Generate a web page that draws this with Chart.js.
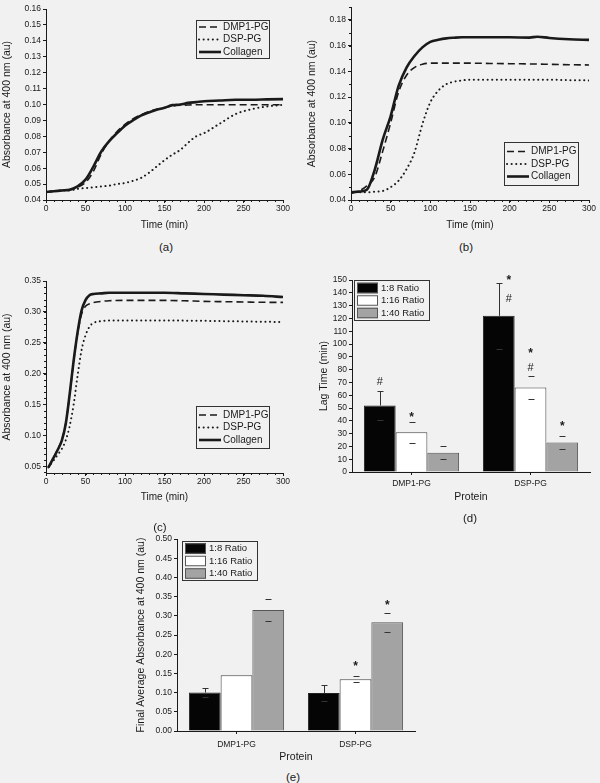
<!DOCTYPE html>
<html>
<head>
<meta charset="utf-8">
<script src="https://cdn.jsdelivr.net/npm/chart.js@4.4.1/dist/chart.umd.min.js"></script>
<style>
  body { margin: 0; width: 600px; height: 783px; background: #f1f1f1; position: relative; overflow: hidden;
         font-family: "Liberation Sans", Arial, sans-serif; }
  canvas { position: absolute; }
  .tag { position: absolute; font-size: 11.5px; color: #1a1a1a; transform: translate(-50%, -50%); }
</style>
</head>
<body>
<canvas id="ca" width="292" height="234" style="left:0;top:0"></canvas>
<canvas id="cb" width="300" height="234" style="left:300px;top:0"></canvas>
<canvas id="cc" width="292" height="246" style="left:0;top:260px"></canvas>
<canvas id="cd" width="288" height="247" style="left:312px;top:260px"></canvas>
<canvas id="ce" width="296" height="237" style="left:130px;top:530px"></canvas>
<div class="tag" style="left:166px;top:247px">(a)</div>
<div class="tag" style="left:466px;top:247px">(b)</div>
<div class="tag" style="left:160px;top:527px">(c)</div>
<div class="tag" style="left:470px;top:518px">(d)</div>
<div class="tag" style="left:293px;top:777px">(e)</div>
<script>
// ---- data ----
const timeTicks = [0, 50, 100, 150, 200, 250, 300];

// (a)
const timeA = [0, 10, 20, 30, 40, 50, 60, 70, 80, 90, 100, 110, 120, 130, 140, 150, 160, 170, 180, 190, 200, 220, 240, 260, 280, 300];
const dmp1A = [0.045, 0.0455, 0.046, 0.0465, 0.048, 0.051, 0.058, 0.069, 0.077, 0.083, 0.0875, 0.091, 0.0935, 0.0955, 0.097, 0.098, 0.099, 0.0995, 0.0997, 0.0998, 0.0998, 0.0998, 0.0998, 0.0998, 0.0998, 0.0998];
const dspA = [0.045, 0.0455, 0.046, 0.046, 0.047, 0.0475, 0.048, 0.0485, 0.049, 0.050, 0.0507, 0.052, 0.0538, 0.057, 0.061, 0.065, 0.0685, 0.0715, 0.076, 0.080, 0.082, 0.088, 0.094, 0.097, 0.0988, 0.0998];
const collagenA = [0.045, 0.0455, 0.046, 0.0465, 0.0486, 0.0528, 0.061, 0.0705, 0.077, 0.082, 0.0867, 0.090, 0.093, 0.095, 0.0967, 0.098, 0.0996, 0.100, 0.101, 0.1015, 0.102, 0.1025, 0.103, 0.103, 0.1032, 0.1034];
const yTicksA = [0.04, 0.05, 0.06, 0.07, 0.08, 0.09, 0.10, 0.11, 0.12, 0.13, 0.14, 0.15, 0.16];

// (b)
const timeB = [0, 10, 20, 30, 40, 50, 60, 70, 80, 90, 100, 110, 120, 130, 140, 150, 175, 200, 225, 235, 250, 275, 300];
const dmp1B = [0.045, 0.047, 0.051, 0.058, 0.078, 0.100, 0.124, 0.137, 0.143, 0.1456, 0.1464, 0.1464, 0.1464, 0.1464, 0.1464, 0.1464, 0.1462, 0.146, 0.1458, 0.1457, 0.1455, 0.1452, 0.145];
const dspB = [0.046, 0.046, 0.046, 0.0465, 0.047, 0.050, 0.055, 0.064, 0.077, 0.099, 0.116, 0.125, 0.130, 0.132, 0.133, 0.1335, 0.1335, 0.1335, 0.1335, 0.1335, 0.1335, 0.1332, 0.133];
const collagenB = [0.046, 0.0465, 0.048, 0.0637, 0.087, 0.1053, 0.1287, 0.143, 0.152, 0.1587, 0.163, 0.1646, 0.1657, 0.1662, 0.1665, 0.1665, 0.1665, 0.1665, 0.1663, 0.167, 0.166, 0.165, 0.1645];
const yTicksB = [0.04, 0.06, 0.08, 0.10, 0.12, 0.14, 0.16, 0.18];

// (c)
const timeC = [3, 10, 15, 20, 25, 30, 35, 40, 45, 50, 55, 60, 70, 80, 100, 125, 150, 175, 200, 225, 250, 275, 300];
const dmp1C = [0.048, 0.065, 0.078, 0.092, 0.12, 0.165, 0.22, 0.265, 0.296, 0.309, 0.313, 0.315, 0.317, 0.318, 0.3186, 0.3186, 0.3186, 0.318, 0.317, 0.3165, 0.316, 0.3155, 0.3154];
const dspC = [0.048, 0.060, 0.069, 0.078, 0.092, 0.115, 0.150, 0.197, 0.238, 0.262, 0.276, 0.282, 0.285, 0.286, 0.286, 0.286, 0.286, 0.2858, 0.2855, 0.285, 0.2845, 0.284, 0.2835];
const collagenC = [0.048, 0.0646, 0.077, 0.0916, 0.1187, 0.167, 0.221, 0.267, 0.302, 0.319, 0.327, 0.329, 0.330, 0.331, 0.331, 0.331, 0.331, 0.330, 0.329, 0.328, 0.327, 0.326, 0.324];
const yTicksC = [0.05, 0.10, 0.15, 0.20, 0.25, 0.30, 0.35];

// (d) lag time
const proteins = ["DMP1-PG", "DSP-PG"];
const ratios = ["1:8 Ratio", "1:16 Ratio", "1:40 Ratio"];
const lag8 = [52, 122];
const lag16 = [31, 66];
const lag40 = [15, 23];
const lagErr8 = [11, 26];
const lagErr16 = [8, 9];
const lagErr40 = [5, 5];
const yTicksD = [0, 10, 20, 30, 40, 50, 60, 70, 80, 90, 100, 110, 120, 130, 140, 150];
const lagMarks = [
  { series: 0, index: 0, text: "#", value: 70 },
  { series: 1, index: 0, text: "*", value: 44 },
  { series: 0, index: 1, text: "*", value: 151, dx: 10 },
  { series: 0, index: 1, text: "#", value: 135, dx: 10 },
  { series: 1, index: 1, text: "*", value: 94 },
  { series: 1, index: 1, text: "#", value: 81 },
  { series: 2, index: 1, text: "*", value: 37 }
];

// (e) final absorbance
const abs8 = [0.100, 0.099];
const abs16 = [0.145, 0.135];
const abs40 = [0.315, 0.283];
const absErr8 = [0.011, 0.020];
const absErr16 = [0, 0.008];
const absErr40 = [0.028, 0.024];
const yTicksE = [0.00, 0.05, 0.10, 0.15, 0.20, 0.25, 0.30, 0.35, 0.40, 0.45, 0.50];
const absMarks = [
  { series: 1, index: 1, text: "*", value: 0.172 },
  { series: 2, index: 1, text: "*", value: 0.331 }
];

// ---- helpers / plugins ----
Chart.defaults.font.family = '"Liberation Sans", Arial, sans-serif';
Chart.defaults.color = "#1a1a1a";
Chart.defaults.animation = false;

const INK = "#1a1a1a";
const TICK = 8.5;
const fixW = (w) => (s) => { s.width = w; };
const fixH = (h) => (s) => { s.height = h; };
const setTicks = (list) => (s) => { s.ticks = list.map((v) => ({ value: v })); };
const axisGrid = { drawOnChartArea: false, drawTicks: true, tickLength: 3, color: INK };
const axisBorder = { color: INK, width: 1 };

// legend drawn inside the plot in a framed box (config kept in closure)
function boxLegend(cfg) {
    return {
        id: "boxLegend",
        afterDraw(chart) {
            const c = chart.ctx;
            const { x, y, w, h, rowH, items } = cfg;
            c.save();
            c.strokeStyle = "#333";
            c.lineWidth = 1;
            c.strokeRect(x + 0.5, y + 0.5, w, h);
            const first = y + 0.5 + (h - rowH * (items.length - 1)) / 2;
            c.font = (cfg.size || 10) + 'px "Liberation Sans", Arial, sans-serif';
            c.textBaseline = "middle";
            items.forEach((it, i) => {
                const cy = first + i * rowH;
                if (it.fill) {
                    c.fillStyle = it.fill;
                    c.fillRect(x + 3, cy - rowH / 2 + 1, 21, rowH - 2);
                    c.strokeStyle = "#555";
                    c.lineWidth = 1;
                    c.strokeRect(x + 3.5, cy - rowH / 2 + 1.5, 20, rowH - 3);
                } else {
                    c.beginPath();
                    c.setLineDash(it.dash || []);
                    c.lineWidth = it.width;
                    c.lineCap = it.cap || "butt";
                    c.strokeStyle = INK;
                    c.moveTo(x + 3, cy);
                    c.lineTo(x + 25, cy);
                    c.stroke();
                    c.setLineDash([]);
                }
                c.fillStyle = INK;
                c.fillText(it.text, x + 27, cy);
            });
            c.restore();
        },
    };
}

function minorTicks(cfg) {
    return {
        id: "minorTicks",
        afterDraw(chart) {
            const c = chart.ctx;
            c.save();
            c.strokeStyle = INK;
            c.lineWidth = 1;
            ["x", "y"].forEach((k) => {
                const step = cfg[k];
                if (!step) return;
                const s = chart.scales[k];
                const start = Math.ceil(s.min / step - 1e-6);
                for (let n = start; n * step <= s.max + 1e-9; n++) {
                    const p = Math.round(s.getPixelForValue(n * step)) + 0.5;
                    c.beginPath();
                    if (k === "x") { c.moveTo(p, s.top); c.lineTo(p, s.top + 2); }
                    else { c.moveTo(s.right, p); c.lineTo(s.right - 2, p); }
                    c.stroke();
                }
            });
            c.restore();
        },
    };
}

function errBars(cfg) {
    return {
        id: "errBars",
        afterDatasetsDraw(chart) {
            const c = chart.ctx;
            const ys = chart.scales.y;
            c.save();
            c.lineWidth = 1;
            c.strokeStyle = "#333";
            cfg.errors.forEach((errs, di) => {
                const meta = chart.getDatasetMeta(di);
                const vals = chart.data.datasets[di].data;
                errs.forEach((e, i) => {
                    if (!e) return;
                    const bx = Math.round(meta.data[i].x) + 0.5;
                    const up = Math.round(ys.getPixelForValue(vals[i] + e)) + 0.5;
                    const lo = Math.round(ys.getPixelForValue(vals[i] - e)) + 0.5;
                    c.beginPath();
                    if (di === 0) {
                        c.moveTo(bx, ys.getPixelForValue(vals[i]));
                        c.lineTo(bx, up);
                    }
                    c.moveTo(bx - 3, up); c.lineTo(bx + 3, up);
                    c.moveTo(bx - 3, lo); c.lineTo(bx + 3, lo);
                    c.stroke();
                });
            });
            c.fillStyle = INK;
            c.textAlign = "center";
            c.textBaseline = "middle";
            cfg.marks.forEach((m) => {
                const bar = chart.getDatasetMeta(m.series).data[m.index];
                const py = ys.getPixelForValue(m.value);
                if (m.text === "*") {
                    c.font = 'bold 12px "Liberation Sans", Arial, sans-serif';
                    c.fillText("*", bar.x + (m.dx || 0), py + 2);
                } else {
                    c.font = '11px "Liberation Sans", Arial, sans-serif';
                    c.fillText(m.text, bar.x + (m.dx || 0), py);
                }
            });
            c.restore();
        },
    };
}

const lineLegendItems = [
    { text: "DMP1-PG", dash: [7, 4], width: 1.6 },
    { text: "DSP-PG", dash: [0.1, 4.5], width: 2, cap: "round" },
    { text: "Collagen", width: 2.6 },
];

function lineChart(id, box, time, series, yMin, yMax, yTicks, yMinor, legend) {
    const pts = (arr) => time.map((t, i) => ({ x: t, y: arr[i] }));
    return new Chart(document.getElementById(id), {
        type: "line",
        data: {
            datasets: [
                { label: "DMP1-PG", data: pts(series[0]), borderColor: INK, borderWidth: 1.6, borderDash: [7, 4] },
                { label: "DSP-PG", data: pts(series[1]), borderColor: INK, borderWidth: 2, borderDash: [0.1, 4.5], borderCapStyle: "round" },
                { label: "Collagen", data: pts(series[2]), borderColor: INK, borderWidth: 2.6 },
            ],
        },
        options: {
            responsive: false,
            layout: { padding: { top: box.top, right: box.right, left: 0, bottom: 0 } },
            elements: { point: { radius: 0 }, line: { cubicInterpolationMode: "monotone", fill: false } },
            plugins: { legend: { display: false }, tooltip: { enabled: false } },
            scales: {
                x: {
                    type: "linear", min: 0, max: 300,
                    afterBuildTicks: setTicks(timeTicks), afterFit: fixH(box.xh),
                    grid: axisGrid, border: axisBorder,
                    ticks: { font: { size: TICK }, padding: 1, maxRotation: 0, autoSkip: false },
                    title: { display: true, text: "Time (min)", font: { size: 10 }, padding: { top: 0, bottom: 3 } },
                },
                y: {
                    type: "linear", min: yMin, max: yMax,
                    afterBuildTicks: setTicks(yTicks), afterFit: fixW(box.yw),
                    grid: axisGrid, border: axisBorder,
                    ticks: { font: { size: TICK }, padding: 2, autoSkip: false, callback: (v) => v.toFixed(2) },
                    title: { display: true, text: "Absorbance at 400 nm (au)", font: { size: 10.5 }, padding: { top: box.tp, bottom: 0 } },
                },
            },
        },
        plugins: [
            boxLegend(Object.assign({ items: lineLegendItems, rowH: 12.5, size: 10 }, legend)),
            minorTicks({ x: 10, y: yMinor }),
        ],
    });
}

function barChart(id, box, series, errs, marks, yMax, yTicks, yTitle, fmt, legend) {
    const fills = ["#050505", "#ffffff", "#a3a3a3"];
    const edges = ["#222", "#444", "#555"];
    return new Chart(document.getElementById(id), {
        type: "bar",
        data: {
            labels: proteins,
            datasets: series.map((d, i) => ({
                label: ratios[i], data: d, backgroundColor: fills[i], borderColor: edges[i], borderWidth: 1,
                categoryPercentage: 0.8, barPercentage: 1.0,
            })),
        },
        options: {
            responsive: false,
            layout: { padding: { top: box.top, right: box.right, left: 0, bottom: 0 } },
            plugins: { legend: { display: false }, tooltip: { enabled: false } },
            scales: {
                x: {
                    afterFit: fixH(box.xh),
                    grid: Object.assign({}, axisGrid, { offset: false }), border: axisBorder,
                    ticks: { font: { size: 8.5 }, padding: box.tpad, maxRotation: 0 },
                    title: { display: true, text: "Protein", font: { size: 10.5 }, padding: { top: 0, bottom: 4 } },
                },
                y: {
                    min: 0, max: yMax,
                    afterBuildTicks: setTicks(yTicks), afterFit: fixW(box.yw),
                    grid: axisGrid, border: axisBorder,
                    ticks: { font: { size: TICK }, padding: 2, autoSkip: false, callback: fmt },
                    title: { display: true, text: yTitle, font: { size: 10.5 }, padding: { top: box.tp, bottom: 0 } },
                },
            },
        },
        plugins: [
            errBars({ errors: errs, marks: marks }),
            boxLegend(Object.assign({ rowH: 12.5, size: 9.5, items: ratios.map((r, i) => ({ text: r, fill: fills[i] })) }, legend)),
        ],
    });
}

lineChart("ca", { top: 9, right: 9, xh: 34, yw: 46, tp: 1 }, timeA, [dmp1A, dspA, collagenA],
    0.04, 0.16, yTicksA, 0, { x: 196, y: 20, w: 73, h: 38 });
lineChart("cb", { top: 7, right: 11, xh: 34, yw: 51, tp: 6 }, timeB, [dmp1B, dspB, collagenB],
    0.04, 0.19, yTicksB, 0.01, { x: 204, y: 142, w: 74, h: 43 });
lineChart("cc", { top: 21, right: 9, xh: 33, yw: 46, tp: 1 }, timeC, [dmp1C, dspC, collagenC],
    0.039, 0.35, yTicksC, 0.01, { x: 196, y: 146, w: 73, h: 42 });

barChart("cd", { top: 20, right: 10, xh: 35, yw: 40, tp: 6, tpad: 4 },
    [lag8, lag16, lag40], [lagErr8, lagErr16, lagErr40], lagMarks,
    150, yTicksD, "Lag Time (min)", (v) => String(v), { x: 42, y: 20, w: 75, h: 40 });
barChart("ce", { top: 9, right: 11, xh: 36, yw: 47, tp: 5, tpad: 6 },
    [abs8, abs16, abs40], [absErr8, absErr16, absErr40], absMarks,
    0.5, yTicksE, "Final Average Absorbance at 400 nm (au)", (v) => v.toFixed(2), { x: 52, y: 11, w: 75, h: 39 });
</script>
</body>
</html>
